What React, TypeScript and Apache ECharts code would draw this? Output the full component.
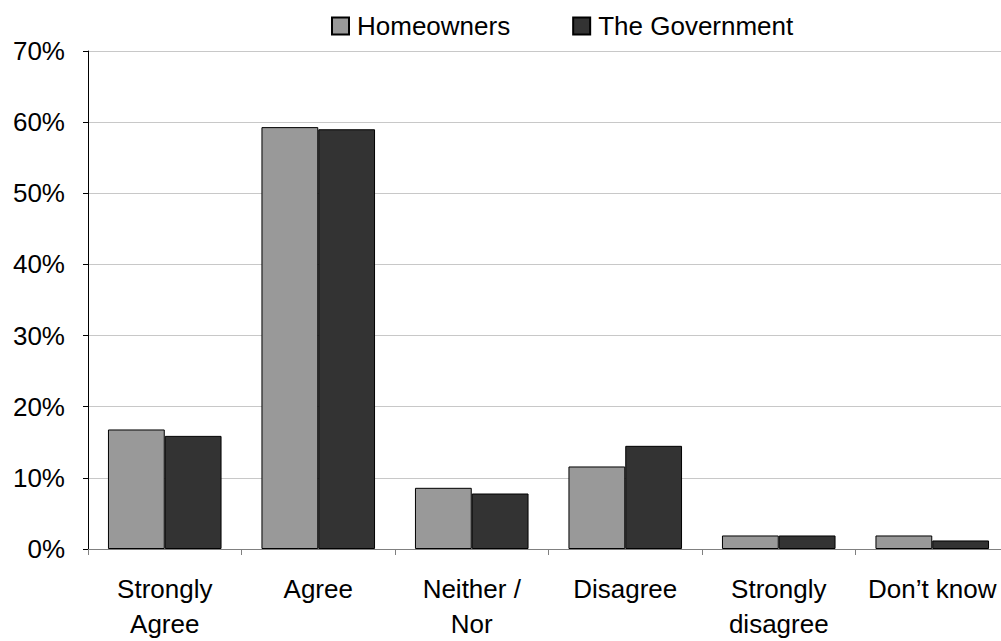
import React, { useEffect, useRef } from "react";
import * as echarts from "echarts";

const categories = ["Strongly\nAgree", "Agree", "Neither /\nNor", "Disagree", "Strongly\ndisagree", "Don\u2019t know"];
const homeowners = [16.8, 59.3, 8.6, 11.6, 1.9, 1.9];
const government = [15.9, 59.0, 7.8, 14.5, 1.9, 1.2];
const seriesNames = ["Homeowners", "The Government"];

const FONT = "'Liberation Sans', Arial, sans-serif";

export default function App() {
  const ref = useRef<HTMLDivElement>(null);
  useEffect(() => {
    if (!ref.current) return;
    const chart = echarts.init(ref.current, undefined, { renderer: "svg" });
    chart.setOption({
      animation: false,
      backgroundColor: "#ffffff",
      textStyle: { fontFamily: FONT },
      legend: {
        left: 331,
        top: 13,
        padding: 0,
        itemWidth: 17,
        itemHeight: 17,
        itemGap: 62,
        icon: "rect",
        textStyle: { fontSize: 26, color: "#000", fontFamily: FONT, padding: [0, 0, 0, 3] },
        data: seriesNames,
      },
      grid: { left: 88, right: 1, top: 51, bottom: 88, containLabel: false },
      xAxis: {
        type: "category",
        data: categories,
        axisLine: { lineStyle: { color: "#808080", width: 1 } },
        axisTick: { show: true, length: 6, lineStyle: { color: "#808080" } },
        axisLabel: {
          interval: 0,
          margin: 22,
          fontSize: 26,
          lineHeight: 35,
          color: "#000",
          fontFamily: FONT,
        },
      },
      yAxis: {
        type: "value",
        min: 0,
        max: 70,
        interval: 10,
        axisLine: { show: true, lineStyle: { color: "#000", width: 1 } },
        axisTick: { show: true, length: 5, lineStyle: { color: "#000" } },
        axisLabel: { formatter: "{value}%", fontSize: 26, color: "#000", margin: 23, fontFamily: FONT },
        splitLine: { show: true, lineStyle: { color: "#c8c8c8", width: 1 } },
      },
      series: [
        {
          name: seriesNames[0],
          type: "bar",
          data: homeowners,
          barGap: "0%",
          barCategoryGap: "26%",
          itemStyle: { color: "#999999", borderColor: "#000", borderWidth: 1 },
        },
        {
          name: seriesNames[1],
          type: "bar",
          data: government,
          barGap: "0%",
          barCategoryGap: "26%",
          itemStyle: { color: "#333333", borderColor: "#000", borderWidth: 1 },
        },
      ],
    });
    return () => chart.dispose();
  }, []);
  return (
    <div style={{ position: "fixed", left: 0, top: 0, width: 1001, height: 641, overflow: "hidden", background: "#fff" }}>
      <div ref={ref} style={{ width: 1010, height: 641 }} />
    </div>
  );
}
